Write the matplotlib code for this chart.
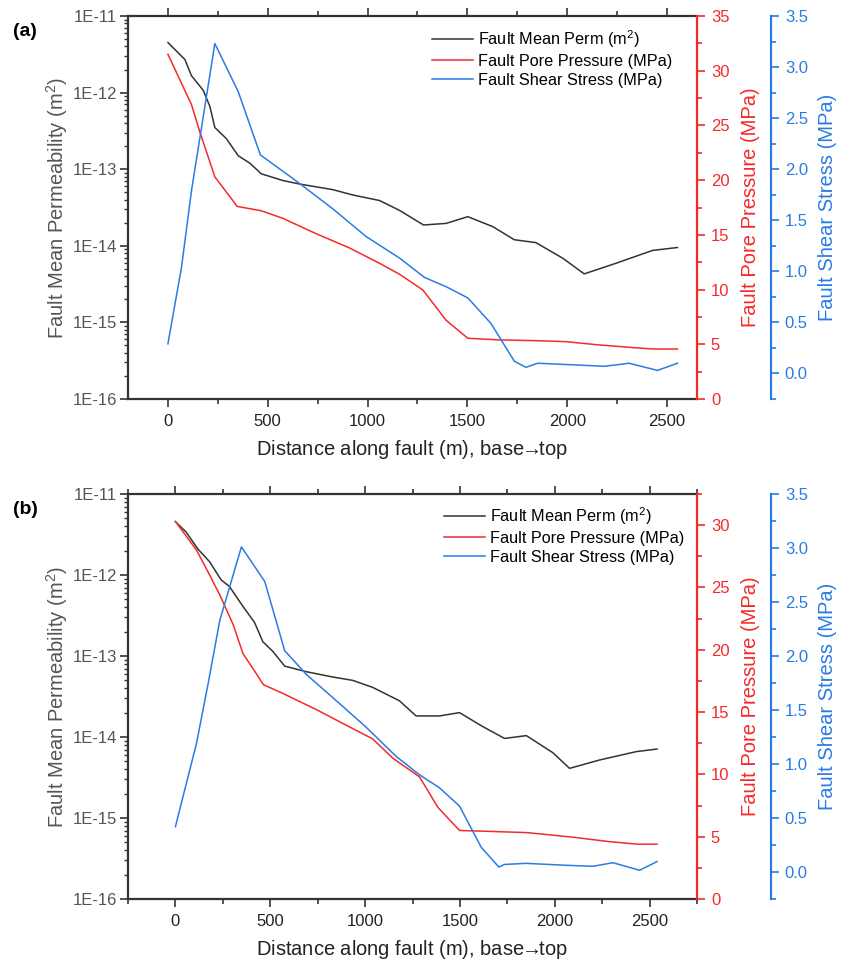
import numpy as np
import matplotlib
matplotlib.use('Agg')
import matplotlib.pyplot as plt
from matplotlib.ticker import MultipleLocator, LogLocator, NullFormatter, FixedLocator, FormatStrFormatter

plt.rcParams['font.family'] = ['Liberation Sans', 'DejaVu Sans']
plt.rcParams['mathtext.fontset'] = 'custom'
plt.rcParams['mathtext.rm'] = 'Liberation Sans'
plt.rcParams['mathtext.it'] = 'Liberation Sans'

# ---- panel (a) data ----
a_perm_x = [0, 85, 118, 177, 210, 235, 293, 352, 410, 468, 577, 660, 827, 927, 1060,
            1160, 1280, 1393, 1502, 1627, 1735, 1843, 1977, 2085, 2243, 2427, 2552]
a_perm = [4.5e-12, 2.7e-12, 1.66e-12, 1.07e-12, 6.6e-13, 3.5e-13, 2.5e-13, 1.5e-13, 1.2e-13,
          8.7e-14, 7.1e-14, 6.4e-14, 5.4e-14, 4.6e-14, 3.9e-14, 2.9e-14, 1.87e-14, 1.96e-14,
          2.4e-14, 1.78e-14, 1.2e-14, 1.1e-14, 6.9e-15, 4.3e-15, 5.9e-15, 8.7e-15, 9.5e-15]
a_pres_x = [0, 118, 160, 235, 347, 468, 577, 743, 910, 1060, 1160, 1277, 1393, 1502,
            1660, 1843, 1993, 2160, 2327, 2427, 2552]
a_pres = [31.5, 26.9, 24.4, 20.3, 17.6, 17.2, 16.5, 15.1, 13.8, 12.4, 11.4, 9.96, 7.2, 5.55,
          5.4, 5.33, 5.24, 4.94, 4.7, 4.57, 4.57]
a_shear_x = [0, 68, 118, 235, 352, 463, 660, 827, 993, 1160, 1285, 1393, 1502, 1618,
             1735, 1793, 1852, 2027, 2185, 2310, 2452, 2552]
a_shear = [0.29, 1.04, 1.79, 3.23, 2.76, 2.14, 1.86, 1.61, 1.34, 1.13, 0.94, 0.85, 0.74, 0.49,
           0.12, 0.06, 0.10, 0.085, 0.07, 0.10, 0.03, 0.10]

# ---- panel (b) data ----
b_perm_x = [0, 56, 118, 180, 241, 285, 356, 417, 461, 515, 576, 690, 830, 935, 1040,
            1181, 1269, 1392, 1498, 1612, 1735, 1850, 1990, 2078, 2236, 2430, 2539]
b_perm = [4.55e-12, 3.4e-12, 2.1e-12, 1.46e-12, 8.7e-13, 7.2e-13, 4.1e-13, 2.6e-13, 1.5e-13,
          1.13e-13, 7.5e-14, 6.4e-14, 5.5e-14, 5.0e-14, 4.1e-14, 2.8e-14, 1.82e-14, 1.82e-14,
          2.0e-14, 1.38e-14, 9.6e-15, 1.04e-14, 6.4e-15, 4.1e-15, 5.2e-15, 6.6e-15, 7.1e-15]
b_pres_x = [0, 111, 172, 234, 305, 356, 417, 464, 566, 743, 919, 1040, 1146, 1287, 1384,
            1498, 1709, 1850, 1972, 2113, 2289, 2438, 2539]
b_pres = [30.3, 28.0, 26.25, 24.4, 22.0, 19.7, 18.3, 17.2, 16.5, 15.2, 13.8, 12.85, 11.3, 9.8,
          7.35, 5.5, 5.4, 5.33, 5.15, 4.93, 4.6, 4.4, 4.4]
b_shear_x = [0, 111, 172, 234, 348, 471, 576, 690, 865, 1006, 1164, 1287, 1392, 1498, 1612,
             1705, 1735, 1850, 2061, 2201, 2307, 2447, 2539]
b_shear = [0.42, 1.19, 1.74, 2.33, 3.01, 2.69, 2.05, 1.83, 1.56, 1.34, 1.07, 0.90, 0.78, 0.61,
           0.23, 0.046, 0.07, 0.08, 0.062, 0.053, 0.086, 0.016, 0.096]

xlabel = 'Distance along fault (m), base$\\!\\!\\rightarrow\\!\\!$top'
perm_label = 'Fault Mean Permeability (m$^2$)'
pres_label = 'Fault Pore Pressure (MPa)'
shear_label = 'Fault Shear Stress (MPa)'
legend_labels = ['Fault Mean Perm (m$^2$)', 'Fault Pore Pressure (MPa)', 'Fault Shear Stress (MPa)']

c_perm = '#333333'
c_pres = '#f42a2a'
c_shear = '#2a7be4'
c_axis = '#333333'
c_text = '#555555'
W, H = 843, 965
TICK_FS = 12
LABEL_FS = 14.5


def draw_panel(fig, rect, tag, perm_x, perm, pres_x, pres, shear_x, shear,
               xlim, pres_max, pres_ticks, leg_xy):
    ax = fig.add_axes(rect)
    ax2 = ax.twinx()
    ax3 = ax.twinx()

    l1, = ax.plot(perm_x, perm, color=c_perm, lw=1.1)
    l2, = ax2.plot(pres_x, pres, color=c_pres, lw=1.1)
    l3, = ax3.plot(shear_x, shear, color=c_shear, lw=1.1)

    # left log axis
    ax.set_yscale('log')
    ax.set_ylim(1e-16, 1e-11)
    ax.set_xlim(*xlim)
    ax.yaxis.set_minor_locator(LogLocator(base=10, subs=np.arange(2, 10), numticks=20))
    ax.yaxis.set_minor_formatter(NullFormatter())
    ax.set_yticks([1e-16, 1e-15, 1e-14, 1e-13, 1e-12, 1e-11])
    ax.set_yticklabels(['1E-16', '1E-15', '1E-14', '1E-13', '1E-12', '1E-11'])
    ax.xaxis.set_minor_locator(MultipleLocator(250))
    ax.set_xticks([0, 500, 1000, 1500, 2000, 2500])
    ax.tick_params(axis='x', which='major', direction='out', length=6, width=1.2,
                   top=True, labelsize=TICK_FS, colors=c_axis, labelcolor='#222222', pad=5)
    ax.tick_params(axis='x', which='minor', direction='out', length=3.5, width=1.2, top=True,
                   colors=c_axis)
    ax.tick_params(axis='y', which='major', direction='out', length=6, width=1.2,
                   labelsize=TICK_FS, colors=c_axis, labelcolor=c_text, pad=2)
    ax.tick_params(axis='y', which='minor', direction='out', length=3, width=1.0,
                   colors=c_axis)
    for s in ['left', 'top', 'bottom']:
        ax.spines[s].set_color(c_axis)
        ax.spines[s].set_linewidth(1.6)
    ax.spines['right'].set_visible(False)
    ax.set_xlabel(xlabel, fontsize=LABEL_FS, color='#222222', labelpad=6)
    ax.set_ylabel(perm_label, fontsize=LABEL_FS, color=c_text, labelpad=2)

    # pore pressure axis
    ax2.set_ylim(0, pres_max)
    ax2.yaxis.set_major_locator(FixedLocator(pres_ticks))
    ax2.yaxis.set_minor_locator(MultipleLocator(2.5))
    ax2.tick_params(axis='y', which='major', direction='out', length=6, width=1.2,
                    colors=c_pres, labelsize=TICK_FS, pad=4)
    ax2.tick_params(axis='y', which='minor', direction='out', length=3.5, width=1.2,
                    colors=c_pres)
    for s in ['left', 'top', 'bottom']:
        ax2.spines[s].set_visible(False)
    ax2.spines['right'].set_color(c_pres)
    ax2.spines['right'].set_linewidth(1.6)
    ax2.set_ylabel(pres_label, fontsize=LABEL_FS, color=c_pres, labelpad=8)

    # shear stress axis
    ax3.spines['right'].set_position(('axes', 1.13))
    ax3.set_ylim(-0.25, 3.5)
    ax3.yaxis.set_major_locator(FixedLocator(np.arange(0, 3.51, 0.5)))
    ax3.yaxis.set_minor_locator(FixedLocator(np.arange(-0.25, 3.51, 0.25)))
    ax3.yaxis.set_major_formatter(FormatStrFormatter('%.1f'))
    ax3.tick_params(axis='y', which='major', direction='out', length=6, width=1.2,
                    colors=c_shear, labelsize=TICK_FS, pad=4)
    ax3.tick_params(axis='y', which='minor', direction='out', length=3.5, width=1.2,
                    colors=c_shear)
    for s in ['left', 'top', 'bottom']:
        ax3.spines[s].set_visible(False)
    ax3.spines['right'].set_color(c_shear)
    ax3.spines['right'].set_linewidth(1.6)
    ax3.set_ylabel(shear_label, fontsize=LABEL_FS, color=c_shear, labelpad=7)

    fig.legend([l1, l2, l3], legend_labels, loc='upper left',
               bbox_to_anchor=(leg_xy[0] / W, 1 - leg_xy[1] / H), frameon=False,
               fontsize=11.7, handlelength=2.5, handletextpad=0.35, labelspacing=0.25,
               borderaxespad=0, borderpad=0)
    fig.text(13 / W, 1 - tag[1] / H, tag[0], fontsize=14, fontweight='bold',
             va='center', ha='left')
    return ax


fig = plt.figure(figsize=(W / 100, H / 100), dpi=100)

draw_panel(fig, [128 / W, 1 - 399 / H, 569 / W, 383 / H], ('(a)', 32),
           a_perm_x, a_perm, a_pres_x, a_pres, a_shear_x, a_shear,
           (-200, 2650), 35, np.arange(0, 35.1, 5), (432, 28))
draw_panel(fig, [128 / W, 1 - 899 / H, 569 / W, 405 / H], ('(b)', 510),
           b_perm_x, b_perm, b_pres_x, b_pres, b_shear_x, b_shear,
           (-250, 2750), 32.5, np.arange(0, 31, 5), (444, 505))

fig.savefig('out.png', dpi=100)
